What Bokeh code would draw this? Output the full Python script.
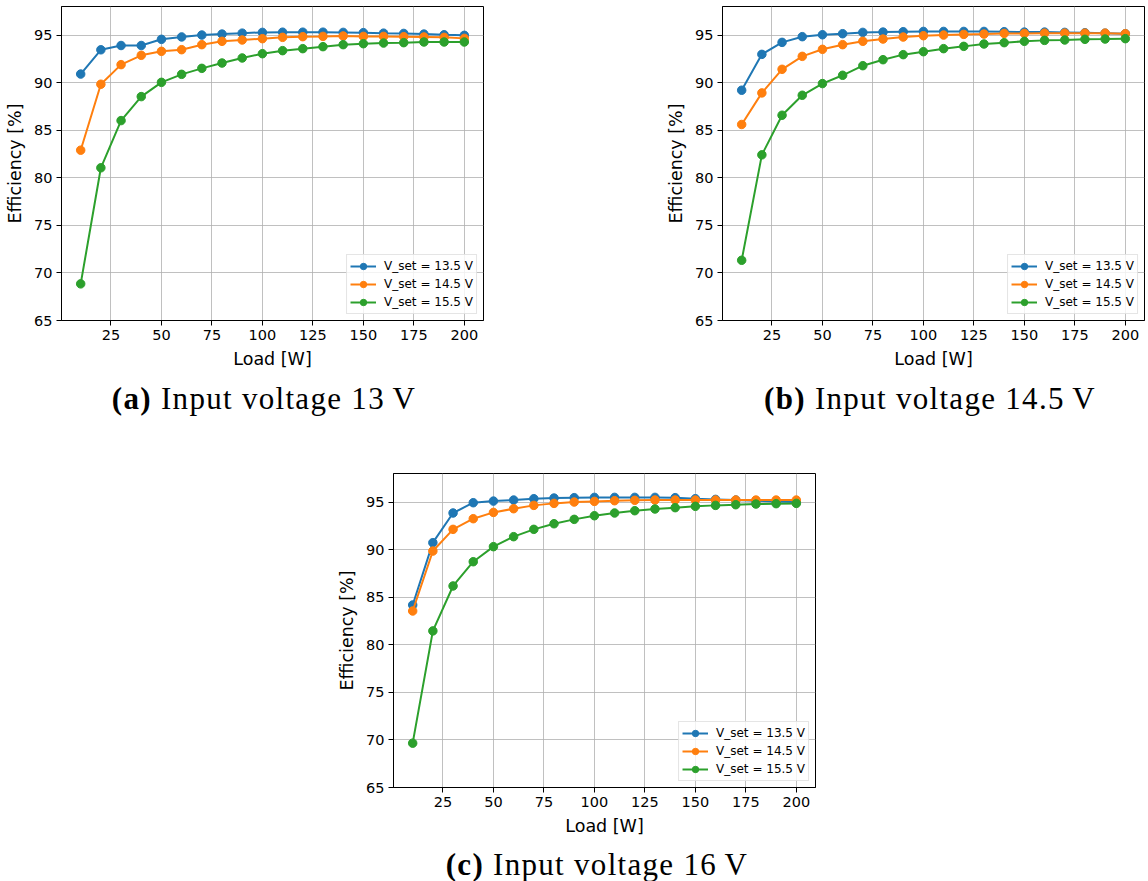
from bokeh.plotting import figure
from bokeh.models import Range1d, FixedTicker, Div, Spacer
from bokeh.layouts import row, column
from bokeh.embed import file_html
from bokeh.resources import INLINE

# ---- data ----
load = [10, 20, 30, 40, 50, 60, 70, 80, 90, 100, 110, 120, 130, 140, 150, 160, 170, 180, 190, 200]
series_labels = ["V_set = 13.5 V", "V_set = 14.5 V", "V_set = 15.5 V"]
series_colors = ["#1f77b4", "#ff7f0e", "#2ca02c"]

# (a) Input voltage 13 V
a_vset_13_5 = [90.9, 93.45, 93.9, 93.9, 94.55, 94.8, 95.0, 95.1, 95.2, 95.28, 95.3, 95.3, 95.3, 95.28, 95.25, 95.2, 95.17, 95.1, 95.03, 94.97]
a_vset_14_5 = [82.9, 89.83, 91.89, 92.87, 93.29, 93.46, 93.99, 94.34, 94.48, 94.62, 94.76, 94.83, 94.86, 94.9, 94.86, 94.86, 94.83, 94.8, 94.76, 94.65]
a_vset_15_5 = [68.85, 81.05, 86.01, 88.53, 90.03, 90.87, 91.5, 92.06, 92.59, 93.04, 93.36, 93.57, 93.78, 93.99, 94.09, 94.16, 94.2, 94.27, 94.27, 94.27]

# (b) Input voltage 14.5 V
b_vset_13_5 = [89.2, 92.97, 94.23, 94.83, 95.03, 95.14, 95.28, 95.31, 95.35, 95.38, 95.38, 95.38, 95.38, 95.35, 95.31, 95.31, 95.28, 95.24, 95.2, 95.14]
b_vset_14_5 = [85.6, 88.92, 91.4, 92.76, 93.5, 93.99, 94.34, 94.58, 94.79, 94.93, 95.0, 95.07, 95.1, 95.17, 95.17, 95.2, 95.2, 95.2, 95.2, 95.14]
b_vset_15_5 = [71.33, 82.41, 86.57, 88.67, 89.9, 90.77, 91.78, 92.41, 92.94, 93.25, 93.57, 93.81, 94.06, 94.2, 94.34, 94.44, 94.48, 94.55, 94.58, 94.62]

# (c) Input voltage 16 V
c_vset_13_5 = [84.18, 90.73, 93.85, 94.93, 95.1, 95.21, 95.35, 95.42, 95.46, 95.49, 95.49, 95.49, 95.49, 95.46, 95.35, 95.28, 95.21, 95.14, 95.07, 95.0]
c_vset_14_5 = [83.55, 89.85, 92.13, 93.25, 93.91, 94.3, 94.65, 94.86, 95.0, 95.07, 95.14, 95.18, 95.21, 95.21, 95.21, 95.21, 95.21, 95.21, 95.21, 95.21]
c_vset_15_5 = [69.66, 81.46, 86.18, 88.73, 90.31, 91.36, 92.13, 92.72, 93.18, 93.56, 93.85, 94.09, 94.27, 94.41, 94.55, 94.65, 94.72, 94.79, 94.83, 94.86]

x_ticks = [25, 50, 75, 100, 125, 150, 175, 200]
y_ticks = [65, 70, 75, 80, 85, 90, 95]
x_label = "Load [W]"
y_label = "Efficiency [%]"
captions = [("(a)", "Input voltage 13\u2009V"),
            ("(b)", "Input voltage 14.5\u2009V"),
            ("(c)", "Input voltage 16\u2009V")]

FONT = "DejaVu Sans"


def make_fig(series, border_right):
    p = figure(frame_width=422, frame_height=314,
               x_range=Range1d(0.5, 209.5), y_range=Range1d(65, 98),
               output_backend="svg", toolbar_location=None,
               min_border_left=61, min_border_right=border_right,
               min_border_top=6, min_border_bottom=50)
    p.background_fill_color = "white"
    p.border_fill_color = "white"
    p.outline_line_color = "black"
    p.outline_line_width = 1
    for vals, lab, col in zip(series, series_labels, series_colors):
        p.line(load, vals, line_color=col, line_width=2, legend_label=lab)
        p.scatter(load, vals, size=8.5, fill_color=col, line_color=col, legend_label=lab)
    p.xaxis.ticker = FixedTicker(ticks=x_ticks)
    p.yaxis.ticker = FixedTicker(ticks=y_ticks)
    for ax in (p.xaxis, p.yaxis):
        ax.major_label_text_font = FONT
        ax.major_label_text_font_size = "14.5px"
        ax.major_label_text_color = "black"
        ax.axis_label_text_font = FONT
        ax.axis_label_text_font_size = "17.5px"
        ax.axis_label_text_font_style = "normal"
        ax.axis_label_text_color = "black"
        ax.minor_tick_line_color = None
        ax.major_tick_in = 0
        ax.major_tick_out = 5
        ax.major_tick_line_color = "black"
        ax.axis_line_color = "black"
        ax.major_label_standoff = 4
        ax.axis_label_standoff = 6
    p.xaxis.axis_label = x_label
    p.yaxis.axis_label = y_label
    p.grid.grid_line_color = "#b0b0b0"
    p.grid.grid_line_width = 0.8
    lg = p.legend[0]
    lg.location = "bottom_right"
    lg.label_text_font = FONT
    lg.label_text_font_size = "12px"
    lg.label_text_color = "black"
    lg.border_line_color = "#cccccc"
    lg.border_line_width = 1
    lg.background_fill_alpha = 0.8
    lg.margin = 6
    lg.padding = 3
    lg.spacing = 2
    lg.glyph_width = 26
    lg.glyph_height = 16
    lg.label_height = 16
    lg.label_standoff = 8
    return p


def caption(tag, text, width, height, pad):
    html = ('<div style="width:%dpx;text-align:center;padding-top:%dpx;'
            'font-family:\'Liberation Serif\';font-size:31px;letter-spacing:1.3px;'
            'color:black;line-height:34px;white-space:nowrap;">'
            '<b>%s</b> %s</div>') % (width, pad, tag, text)
    return Div(text=html, width=width, height=height, margin=0)


fa = make_fig([a_vset_13_5, a_vset_14_5, a_vset_15_5], 10)
fb = make_fig([b_vset_13_5, b_vset_14_5, b_vset_15_5], 2)
fc = make_fig([c_vset_13_5, c_vset_14_5, c_vset_15_5], 2)

layout = column(
    row(fa, Spacer(width=168, height=10, margin=0), fb),
    row(caption(*captions[0], 528, 44, 11), Spacer(width=202, height=10, margin=0), caption(*captions[1], 400, 44, 11)),
    Spacer(width=10, height=52, margin=0),
    row(Spacer(width=332, height=10, margin=0), fc),
    row(Spacer(width=332, height=10, margin=0), caption(*captions[2], 530, 40, 10)),
)

open("out.html", "w").write(file_html(layout, INLINE))
